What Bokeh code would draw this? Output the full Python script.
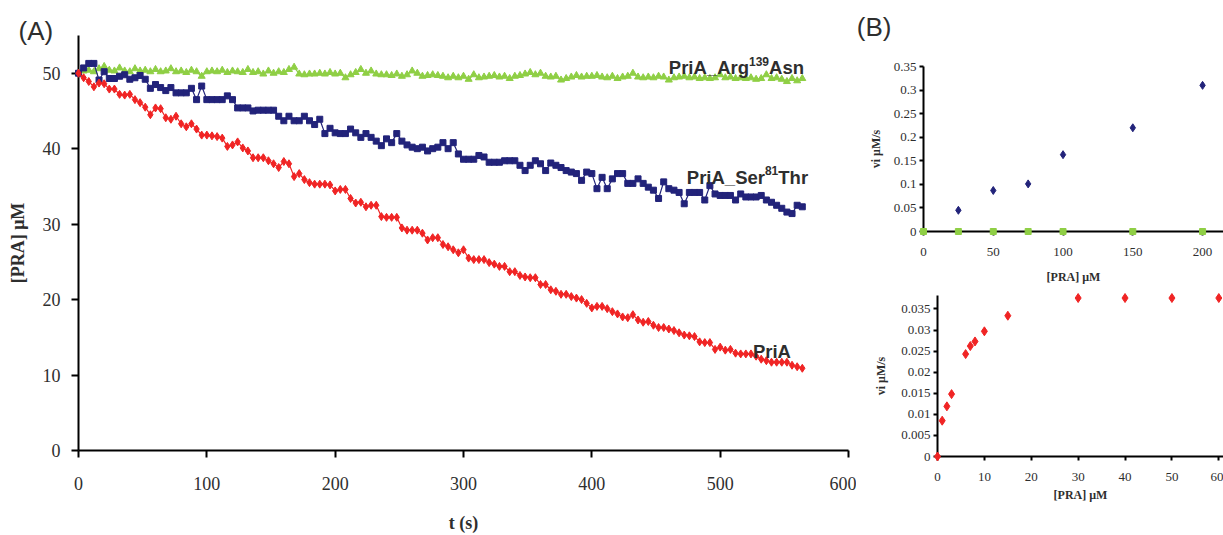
from bokeh.plotting import figure
from bokeh.layouts import row, column
from bokeh.models import Label, Range1d, FixedTicker, NumeralTickFormatter, Spacer
from bokeh.core.properties import value
from bokeh.embed import file_html
from bokeh.resources import INLINE

# ---------------- data: panel A (time course, sampled every 4 s) ----------------
step_s = 4
pria = [
    50.0, 49.4, 48.9, 48.2, 48.7, 48.6, 47.9, 47.9, 47.2, 47.1,
    47.2, 46.5, 46.1, 45.5, 44.5, 45.4, 45.3, 44.1, 43.9, 44.3,
    43.3, 42.9, 43.3, 42.6, 41.8, 41.8, 41.7, 41.6, 41.4, 40.3,
    40.5, 40.9, 40.1, 39.7, 38.8, 38.8, 38.8, 38.4, 38.0, 37.5,
    38.3, 38.0, 36.3, 36.7, 35.9, 35.5, 35.3, 35.3, 35.3, 35.2,
    34.4, 34.6, 34.6, 33.4, 32.8, 32.9, 32.3, 32.5, 32.5, 31.0,
    30.9, 30.9, 30.9, 29.5, 29.2, 29.2, 29.2, 28.8, 27.9, 28.2,
    28.2, 27.3, 27.0, 26.6, 26.2, 26.6, 25.5, 25.3, 25.3, 25.3,
    24.9, 24.7, 24.4, 24.4, 23.7, 23.7, 23.2, 23.0, 22.9, 22.9,
    22.0, 22.0, 21.3, 21.1, 20.7, 20.7, 20.4, 20.2, 20.0, 19.5,
    18.9, 19.1, 19.1, 18.8, 18.4, 18.1, 17.7, 17.6, 18.0, 17.3,
    17.0, 17.1, 16.6, 16.3, 16.3, 16.1, 15.9, 15.6, 15.3, 15.2,
    15.1, 14.4, 14.3, 14.3, 13.4, 13.7, 13.3, 13.4, 12.9, 12.8,
    12.8, 12.8, 12.5, 12.1, 11.9, 11.7, 11.7, 11.7, 11.7, 11.3,
    11.1, 10.9,
]
ser81thr = [
    50.0, 50.7, 51.3, 51.3, 49.1, 50.2, 49.3, 49.3, 49.6, 49.8,
    49.2, 49.4, 49.7, 49.2, 48.0, 48.5, 48.1, 47.7, 48.1, 47.4,
    47.4, 47.4, 48.0, 46.5, 48.3, 46.5, 46.5, 46.5, 46.5, 47.0,
    46.5, 45.4, 45.4, 45.4, 45.0, 45.1, 45.1, 45.1, 45.1, 44.3,
    43.7, 44.3, 43.7, 43.7, 44.3, 43.7, 43.2, 43.9, 42.0, 42.7,
    42.1, 42.0, 42.0, 42.6, 42.1, 41.5, 42.0, 41.5, 41.0, 40.4,
    41.3, 40.8, 42.0, 41.0, 40.5, 40.2, 40.0, 40.2, 39.7, 40.0,
    40.2, 40.8, 40.0, 40.8, 39.3, 38.6, 38.6, 38.6, 39.1, 38.9,
    38.2, 38.2, 38.2, 38.4, 38.4, 38.4, 37.8, 37.1, 37.8, 38.4,
    38.0, 37.1, 38.1, 37.8, 37.5, 37.1, 36.9, 36.7, 35.8, 36.9,
    36.7, 34.7, 36.2, 34.7, 36.0, 36.7, 36.7, 35.4, 35.4, 36.0,
    35.4, 34.9, 34.5, 33.4, 35.6, 34.7, 34.5, 34.2, 32.7, 34.2,
    34.2, 34.2, 33.2, 35.1, 34.0, 33.8, 33.8, 33.8, 33.2, 34.0,
    33.6, 33.6, 33.6, 33.8, 33.2, 32.9, 32.5, 32.1, 31.6, 31.4,
    32.5, 32.3,
]
arg139asn = [
    50.0, 50.3, 50.4, 50.2, 50.6, 50.9, 50.4, 50.3, 50.7, 50.3,
    50.2, 50.6, 50.3, 50.4, 50.2, 50.5, 50.2, 50.3, 50.6, 50.2,
    50.3, 50.1, 50.4, 50.2, 49.6, 50.2, 50.3, 50.2, 50.4, 50.1,
    50.3, 50.2, 50.1, 50.5, 50.1, 50.2, 49.9, 50.3, 50.0, 50.2,
    50.1, 50.5, 50.8, 49.9, 49.8, 49.9, 49.9, 50.0, 49.9, 50.1,
    49.9, 50.0, 49.4, 49.8, 50.1, 50.5, 50.0, 50.3, 49.9, 49.8,
    49.8, 49.7, 49.9, 49.6, 49.8, 50.3, 50.0, 49.6, 49.7, 49.8,
    49.7, 49.6, 49.4, 49.6, 49.4, 49.6, 49.2, 49.8, 49.4, 49.5,
    49.6, 49.7, 49.5, 49.6, 49.3, 49.6, 49.7, 49.9, 50.1, 49.8,
    50.0, 49.6, 49.5, 49.6, 49.1, 49.3, 49.5, 49.7, 49.5, 49.6,
    49.6, 49.7, 49.5, 49.4, 49.6, 49.3, 49.5, 49.6, 50.0, 49.5,
    49.4, 49.5, 49.4, 49.6, 49.5, 49.1, 49.4, 49.5, 49.6, 49.4,
    49.5, 49.3, 49.4, 49.3, 49.4, 49.8, 49.4, 49.5, 49.3, 49.4,
    49.3, 49.4, 49.2, 49.3, 49.8, 49.3, 49.4, 49.2, 48.9, 49.3,
    49.0, 49.3,
]
t_pria = [i * step_s for i in range(len(pria))]
t_ser = [i * step_s for i in range(len(ser81thr))]
t_arg = [i * step_s for i in range(len(arg139asn))]

# ---------------- data: panel B ----------------
pra_top_ser = [25, 50, 75, 100, 150, 200]
vi_top_ser = [0.045, 0.087, 0.101, 0.163, 0.220, 0.310]
pra_top_arg = [0, 25, 50, 75, 100, 150, 200]
vi_top_arg = [0, 0, 0, 0, 0, 0, 0]
pra_bot = [0, 1, 2, 3, 6, 7, 8, 10, 15, 30, 40, 50, 60]
vi_bot = [0, 0.0085, 0.0119, 0.0148, 0.0243, 0.0262, 0.0273, 0.0297, 0.0334,
          0.0376, 0.0376, 0.0376, 0.0376]

ticks_a_x = [0, 100, 200, 300, 400, 500, 600]
ticks_a_y = [0, 10, 20, 30, 40, 50]
ticks_top_x = [0, 50, 100, 150, 200]
ticks_top_y = [0, 0.05, 0.1, 0.15, 0.2, 0.25, 0.3, 0.35]
ticks_bot_x = [0, 10, 20, 30, 40, 50, 60]
ticks_bot_y = [0, 0.005, 0.01, 0.015, 0.02, 0.025, 0.03, 0.035]

RED = "#f02424"
NAVY = "#22237a"
GREEN = "#8fcf45"
TXT = "#2e2e2e"
SERIF = "Liberation Serif"
SANS = "Liberation Sans"


def style(p, tick_size, label_size, tick_out, lw):
    p.xgrid.visible = False
    p.ygrid.visible = False
    p.outline_line_color = None
    p.background_fill_color = "white"
    p.border_fill_color = "white"
    for ax in (p.xaxis[0], p.yaxis[0]):
        ax.axis_line_color = "black"
        ax.axis_line_width = lw
        ax.major_tick_line_color = "black"
        ax.major_tick_line_width = lw
        ax.major_tick_out = tick_out
        ax.major_tick_in = 0
        ax.minor_tick_line_color = None
        ax.major_label_text_font = SERIF
        ax.major_label_text_font_size = tick_size
        ax.major_label_text_color = TXT
        ax.axis_label_text_font = SERIF
        ax.axis_label_text_font_size = label_size
        ax.axis_label_text_font_style = "bold"
        ax.axis_label_text_color = TXT


def series_label(p, x, y, parts, size_main=18.5, size_sup=12, raise_px=6.5):
    """parts: list of (text, is_superscript, width_em); placed left to right."""
    off = 0.0
    for text, sup, width_em in parts:
        fs = size_sup if sup else size_main
        p.add_layout(Label(x=x, y=y, x_offset=off, y_offset=raise_px if sup else 0,
                           text=text, text_font=SANS, text_font_size=f"{fs}px",
                           text_font_style="bold", text_color=TXT,
                           text_baseline="alphabetic", level="overlay"))
        off += width_em * fs


def panel_letter(p, x, y, letter):
    p.text(x=[x], y=[y], text=[letter], text_font=value(SANS), text_font_size=value("26px"),
           text_color=TXT, text_baseline="top", text_align="left", level="overlay")


# ---------------- panel A ----------------
pa = figure(width=856, height=535, x_range=Range1d(0, 600), y_range=Range1d(0, 55),
            output_backend="svg", toolbar_location=None,
            min_border_left=78, min_border_right=8, min_border_top=35, min_border_bottom=83)
style(pa, "18px", "18px", 7, 2)
pa.xaxis.ticker = FixedTicker(ticks=ticks_a_x)
pa.yaxis.ticker = FixedTicker(ticks=ticks_a_y)
pa.xaxis.axis_label = "t (s)"
pa.yaxis.axis_label = "[PRA] \u03bcM"
pa.xaxis.major_label_standoff = 19
pa.yaxis.major_label_standoff = 11
pa.xaxis.axis_label_standoff = 20
pa.yaxis.axis_label_standoff = 12

pa.line(t_arg, arg139asn, color=GREEN, line_width=1.2, level="overlay")
pa.scatter(t_arg, arg139asn, marker="triangle", size=7, color=GREEN, level="overlay")
pa.line(t_ser, ser81thr, color=NAVY, line_width=1.2, level="overlay")
pa.scatter(t_ser, ser81thr, marker="square", size=6, color=NAVY, level="overlay")
pa.line(t_pria, pria, color=RED, line_width=1.2, level="overlay")
pa.scatter(t_pria, pria, marker="diamond", size=8, color=RED, level="overlay")

series_label(pa, 460.0, 50.7, [("PriA_Arg", False, 4.334), ("139", True, 1.668), ("Asn", False, 1.889)])
series_label(pa, 474.0, 36.2, [("PriA_Ser", False, 4.224), ("81", True, 1.112), ("Thr", False, 1.611)])
series_label(pa, 525.5, 13.1, [("PriA", False, 2.056)])
panel_letter(pa, -46.7, 57.6, "(A)")

# ---------------- panel B top ----------------
pt = figure(width=367, height=288, x_range=Range1d(0, 215), y_range=Range1d(0, 0.35),
            output_backend="svg", toolbar_location=None,
            min_border_left=67, min_border_right=0, min_border_top=66, min_border_bottom=57)
style(pt, "13px", "12px", 4, 2)
pt.xaxis.ticker = FixedTicker(ticks=ticks_top_x)
pt.yaxis.ticker = FixedTicker(ticks=ticks_top_y)
pt.yaxis.formatter = NumeralTickFormatter(format="0.[000]")
pt.xaxis.axis_label = "[PRA] \u03bcM"
pt.yaxis.axis_label = "vi \u03bcM/s"
pt.xaxis.major_label_standoff = 12
pt.yaxis.major_label_standoff = 3
pt.xaxis.axis_label_standoff = 11
pt.yaxis.axis_label_standoff = 8
pt.scatter(pra_top_ser, vi_top_ser, marker="diamond", size=8, color=NAVY, level="overlay")
pt.scatter(pra_top_arg, vi_top_arg, marker="square", size=6, color=GREEN, level="overlay")
panel_letter(pt, -47.8, 0.4646, "(B)")

# ---------------- panel B bottom ----------------
pb = figure(width=353, height=247, x_range=Range1d(0, 61), y_range=Range1d(0, 0.0382),
            output_backend="svg", toolbar_location=None,
            min_border_left=67, min_border_right=0, min_border_top=7, min_border_bottom=79)
style(pb, "13px", "12px", 4, 2)
pb.xaxis.ticker = FixedTicker(ticks=ticks_bot_x)
pb.yaxis.ticker = FixedTicker(ticks=ticks_bot_y)
pb.yaxis.formatter = NumeralTickFormatter(format="0.[000]")
pb.xaxis.axis_label = "[PRA] \u03bcM"
pb.yaxis.axis_label = "vi \u03bcM/s"
pb.xaxis.major_label_standoff = 12
pb.yaxis.major_label_standoff = 3
pb.xaxis.axis_label_standoff = 4
pb.yaxis.axis_label_standoff = 10
pb.scatter(pra_bot, vi_bot, marker="diamond", size=9, color=RED, level="overlay")

layout = row(pa, column(pt, row(Spacer(width=14, height=247), pb)))
open("out.html", "w").write(file_html(layout, INLINE))
